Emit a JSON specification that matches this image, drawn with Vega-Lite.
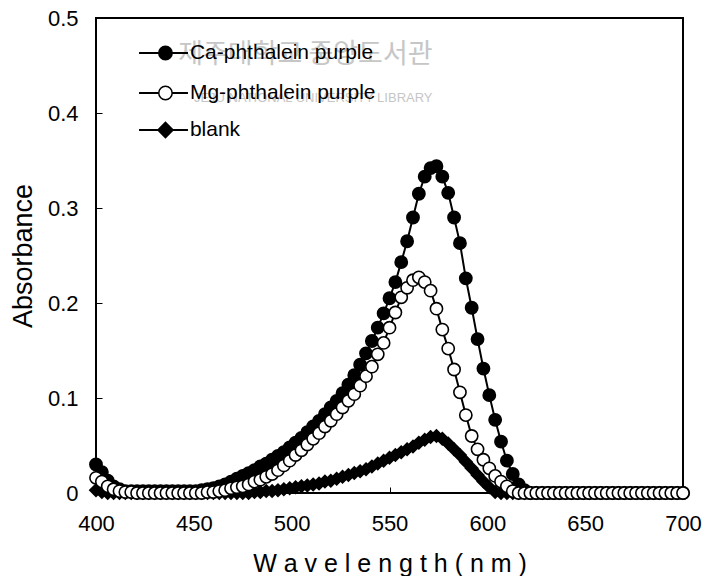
{
  "$schema": "https://vega.github.io/schema/vega-lite/v6.json",
  "width": 587,
  "height": 475,
  "autosize": {"type": "none"},
  "padding": {"left": 96, "top": 18, "right": 22, "bottom": 83},
  "background": "white",
  "config": {
    "font": "Liberation Sans",
    "view": {"stroke": "black", "strokeWidth": 2},
    "axisX": {
      "titleFont": "Liberation Sans",
      "titleFontSize": 25,
      "titleFontWeight": "normal",
      "titleColor": "black",
      "titlePadding": 17,
      "labelFont": "Liberation Sans",
      "labelFontSize": 22,
      "labelColor": "black",
      "labelPadding": 26,
      "labelFlush": false,
      "domain": false,
      "grid": false,
      "ticks": true,
      "tickSize": -6,
      "tickColor": "black",
      "tickWidth": 1
    },
    "axisY": {
      "titleFont": "Liberation Sans",
      "titleFontSize": 27,
      "titleFontWeight": "normal",
      "titleColor": "black",
      "titlePadding": 10,
      "labelFont": "Liberation Sans",
      "labelFontSize": 22,
      "labelColor": "black",
      "labelPadding": 24,
      "domain": false,
      "grid": false,
      "ticks": true,
      "tickSize": -6,
      "tickColor": "black",
      "tickWidth": 1
    }
  },
  "data": {
    "values": [
      {"wl": 400, "ca": 0.030, "mg": 0.016, "bl": 0.003},
      {"wl": 403, "ca": 0.022, "mg": 0.012, "bl": 0.001},
      {"wl": 406, "ca": 0.013, "mg": 0.007, "bl": 0},
      {"wl": 409, "ca": 0.007, "mg": 0.004, "bl": 0},
      {"wl": 412, "ca": 0.004, "mg": 0.002, "bl": 0},
      {"wl": 415, "ca": 0.002, "mg": 0.001, "bl": 0},
      {"wl": 418, "ca": 0.002, "mg": 0.001, "bl": 0},
      {"wl": 421, "ca": 0.002, "mg": 0, "bl": 0},
      {"wl": 424, "ca": 0.002, "mg": 0, "bl": 0},
      {"wl": 427, "ca": 0.002, "mg": 0, "bl": 0},
      {"wl": 430, "ca": 0.002, "mg": 0, "bl": 0},
      {"wl": 433, "ca": 0.002, "mg": 0, "bl": 0},
      {"wl": 436, "ca": 0.002, "mg": 0, "bl": 0},
      {"wl": 439, "ca": 0.002, "mg": 0, "bl": 0},
      {"wl": 442, "ca": 0.002, "mg": 0, "bl": 0},
      {"wl": 445, "ca": 0.002, "mg": 0, "bl": 0},
      {"wl": 448, "ca": 0.002, "mg": 0, "bl": 0},
      {"wl": 451, "ca": 0.002, "mg": 0, "bl": 0},
      {"wl": 454, "ca": 0.003, "mg": 0, "bl": 0},
      {"wl": 457, "ca": 0.004, "mg": 0.001, "bl": 0},
      {"wl": 460, "ca": 0.005, "mg": 0.001, "bl": 0},
      {"wl": 463, "ca": 0.007, "mg": 0.002, "bl": 0},
      {"wl": 466, "ca": 0.009, "mg": 0.003, "bl": 0},
      {"wl": 469, "ca": 0.012, "mg": 0.005, "bl": 0},
      {"wl": 472, "ca": 0.015, "mg": 0.006, "bl": 0},
      {"wl": 475, "ca": 0.018, "mg": 0.007, "bl": 0},
      {"wl": 478, "ca": 0.021, "mg": 0.009, "bl": 0},
      {"wl": 481, "ca": 0.024, "mg": 0.012, "bl": 0.001},
      {"wl": 484, "ca": 0.028, "mg": 0.014, "bl": 0.001},
      {"wl": 487, "ca": 0.031, "mg": 0.017, "bl": 0.002},
      {"wl": 490, "ca": 0.035, "mg": 0.020, "bl": 0.002},
      {"wl": 493, "ca": 0.039, "mg": 0.024, "bl": 0.003},
      {"wl": 496, "ca": 0.043, "mg": 0.029, "bl": 0.004},
      {"wl": 499, "ca": 0.048, "mg": 0.034, "bl": 0.005},
      {"wl": 502, "ca": 0.053, "mg": 0.040, "bl": 0.006},
      {"wl": 505, "ca": 0.058, "mg": 0.045, "bl": 0.007},
      {"wl": 508, "ca": 0.064, "mg": 0.051, "bl": 0.008},
      {"wl": 511, "ca": 0.070, "mg": 0.057, "bl": 0.009},
      {"wl": 514, "ca": 0.076, "mg": 0.063, "bl": 0.010},
      {"wl": 517, "ca": 0.083, "mg": 0.070, "bl": 0.012},
      {"wl": 520, "ca": 0.090, "mg": 0.076, "bl": 0.013},
      {"wl": 523, "ca": 0.097, "mg": 0.083, "bl": 0.015},
      {"wl": 526, "ca": 0.105, "mg": 0.090, "bl": 0.017},
      {"wl": 529, "ca": 0.114, "mg": 0.097, "bl": 0.019},
      {"wl": 532, "ca": 0.124, "mg": 0.104, "bl": 0.021},
      {"wl": 535, "ca": 0.135, "mg": 0.113, "bl": 0.023},
      {"wl": 538, "ca": 0.147, "mg": 0.123, "bl": 0.025},
      {"wl": 541, "ca": 0.160, "mg": 0.133, "bl": 0.028},
      {"wl": 544, "ca": 0.174, "mg": 0.146, "bl": 0.031},
      {"wl": 547, "ca": 0.189, "mg": 0.158, "bl": 0.034},
      {"wl": 550, "ca": 0.205, "mg": 0.174, "bl": 0.037},
      {"wl": 553, "ca": 0.222, "mg": 0.190, "bl": 0.040},
      {"wl": 556, "ca": 0.243, "mg": 0.206, "bl": 0.043},
      {"wl": 559, "ca": 0.265, "mg": 0.216, "bl": 0.046},
      {"wl": 562, "ca": 0.290, "mg": 0.224, "bl": 0.049},
      {"wl": 565, "ca": 0.315, "mg": 0.227, "bl": 0.053},
      {"wl": 568, "ca": 0.333, "mg": 0.222, "bl": 0.056},
      {"wl": 571, "ca": 0.342, "mg": 0.213, "bl": 0.059},
      {"wl": 574, "ca": 0.344, "mg": 0.194, "bl": 0.060},
      {"wl": 577, "ca": 0.333, "mg": 0.172, "bl": 0.057},
      {"wl": 580, "ca": 0.316, "mg": 0.152, "bl": 0.052},
      {"wl": 583, "ca": 0.290, "mg": 0.130, "bl": 0.046},
      {"wl": 586, "ca": 0.263, "mg": 0.106, "bl": 0.040},
      {"wl": 589, "ca": 0.226, "mg": 0.082, "bl": 0.033},
      {"wl": 592, "ca": 0.195, "mg": 0.060, "bl": 0.026},
      {"wl": 595, "ca": 0.162, "mg": 0.046, "bl": 0.019},
      {"wl": 598, "ca": 0.131, "mg": 0.035, "bl": 0.012},
      {"wl": 601, "ca": 0.103, "mg": 0.026, "bl": 0.006},
      {"wl": 604, "ca": 0.077, "mg": 0.018, "bl": 0.001},
      {"wl": 607, "ca": 0.054, "mg": 0.012, "bl": 0},
      {"wl": 610, "ca": 0.034, "mg": 0.007, "bl": 0},
      {"wl": 613, "ca": 0.020, "mg": 0.002, "bl": 0},
      {"wl": 616, "ca": 0.009, "mg": 0, "bl": 0},
      {"wl": 619, "ca": 0.003, "mg": 0, "bl": 0},
      {"wl": 622, "ca": 0, "mg": 0, "bl": 0},
      {"wl": 625, "ca": 0, "mg": 0, "bl": 0},
      {"wl": 628, "ca": 0, "mg": 0, "bl": 0},
      {"wl": 631, "ca": 0, "mg": 0, "bl": 0},
      {"wl": 634, "ca": 0, "mg": 0, "bl": 0},
      {"wl": 637, "ca": 0, "mg": 0, "bl": 0},
      {"wl": 640, "ca": 0, "mg": 0, "bl": 0},
      {"wl": 643, "ca": 0, "mg": 0, "bl": 0},
      {"wl": 646, "ca": 0, "mg": 0, "bl": 0},
      {"wl": 649, "ca": 0, "mg": 0, "bl": 0},
      {"wl": 652, "ca": 0, "mg": 0, "bl": 0},
      {"wl": 655, "ca": 0, "mg": 0, "bl": 0},
      {"wl": 658, "ca": 0, "mg": 0, "bl": 0},
      {"wl": 661, "ca": 0, "mg": 0, "bl": 0},
      {"wl": 664, "ca": 0, "mg": 0, "bl": 0},
      {"wl": 667, "ca": 0, "mg": 0, "bl": 0},
      {"wl": 670, "ca": 0, "mg": 0, "bl": 0},
      {"wl": 673, "ca": 0, "mg": 0, "bl": 0},
      {"wl": 676, "ca": 0, "mg": 0, "bl": 0},
      {"wl": 679, "ca": 0, "mg": 0, "bl": 0},
      {"wl": 682, "ca": 0, "mg": 0, "bl": 0},
      {"wl": 685, "ca": 0, "mg": 0, "bl": 0},
      {"wl": 688, "ca": 0, "mg": 0, "bl": 0},
      {"wl": 691, "ca": 0, "mg": 0, "bl": 0},
      {"wl": 694, "ca": 0, "mg": 0, "bl": 0},
      {"wl": 697, "ca": 0, "mg": 0, "bl": 0},
      {"wl": 700, "ca": 0, "mg": 0, "bl": 0}
    ]
  },
  "layer": [
    {
      "transform": [{"fold": ["bl", "ca", "mg"], "as": ["series", "A"]}],
      "mark": {"type": "line", "stroke": "black"},
      "encoding": {
        "x": {
          "field": "wl",
          "type": "quantitative",
          "scale": {"domain": [400, 700], "nice": false, "zero": false},
          "axis": {"title": "W a v e l e n g t h ( n m )", "values": [400, 450, 500, 550, 600, 650, 700]}
        },
        "y": {
          "field": "A",
          "type": "quantitative",
          "scale": {"domain": [0, 0.5], "nice": false},
          "axis": {
            "title": "Absorbance",
            "values": [0, 0.1, 0.2, 0.3, 0.4, 0.5],
            "labelExpr": "datum.value == 0 ? '0' : format(datum.value, '.1f')"
          }
        },
        "detail": {"field": "series", "type": "nominal"},
        "strokeWidth": {
          "field": "series",
          "type": "nominal",
          "scale": {"domain": ["ca", "mg", "bl"], "range": [2, 2, 7]},
          "legend": null
        }
      }
    },
    {
      "data": {"values": [{"t": "제주대학교 중앙도서관"}]},
      "mark": {"type": "text", "font": "Noto Sans CJK KR", "fontSize": 27, "color": "#c6c6c6", "align": "center", "baseline": "middle"},
      "encoding": {
        "x": {"datum": 507, "type": "quantitative", "axis": {"title": "W a v e l e n g t h ( n m )"}},
        "y": {"datum": 0.461, "type": "quantitative", "axis": {"title": "Absorbance"}},
        "text": {"field": "t"}
      }
    },
    {
      "data": {"values": [{"t": "JEJU NATIONAL UNIVERSITY LIBRARY"}]},
      "mark": {"type": "text", "font": "Liberation Sans", "fontSize": 13, "color": "#c6c6c6", "align": "center", "baseline": "middle"},
      "encoding": {
        "x": {"datum": 511, "type": "quantitative", "axis": {"title": "W a v e l e n g t h ( n m )"}},
        "y": {"datum": 0.416, "type": "quantitative", "axis": {"title": "Absorbance"}},
        "text": {"field": "t"}
      }
    },
    {
      "transform": [{"fold": ["bl", "ca", "mg"], "as": ["series", "A"]}],
      "mark": {"type": "point", "filled": true, "stroke": "black", "strokeWidth": 1.6, "size": 150, "opacity": 1},
      "encoding": {
        "x": {"field": "wl", "type": "quantitative", "axis": {"title": "W a v e l e n g t h ( n m )"}},
        "y": {"field": "A", "type": "quantitative", "axis": {"title": "Absorbance"}},
        "order": {"field": "series", "sort": "ascending"},
        "shape": {
          "field": "series",
          "type": "nominal",
          "scale": {"domain": ["ca", "mg", "bl"], "range": ["circle", "circle", "diamond"]},
          "legend": null
        },
        "fill": {
          "field": "series",
          "type": "nominal",
          "scale": {"domain": ["ca", "mg", "bl"], "range": ["black", "white", "black"]},
          "legend": null
        }
      }
    },
    {
      "data": {"values": [{"label": "Ca-phthalein purple"}]},
      "encoding": {"y": {"datum": 0.4632, "type": "quantitative", "axis": {"title": "Absorbance"}}},
      "layer": [
        {
          "mark": {"type": "rule", "stroke": "black", "strokeWidth": 2},
          "encoding": {"x": {"datum": 422, "type": "quantitative", "axis": {"title": "W a v e l e n g t h ( n m )"}}, "x2": {"datum": 447}}
        },
        {
          "mark": {"type": "point", "shape": "circle", "filled": true, "fill": "black", "stroke": "black", "strokeWidth": 1.5, "size": 180, "opacity": 1},
          "encoding": {"x": {"datum": 435.5, "type": "quantitative", "axis": {"title": "W a v e l e n g t h ( n m )"}}}
        },
        {
          "mark": {"type": "text", "align": "left", "baseline": "middle", "font": "Liberation Sans", "fontSize": 21, "color": "black"},
          "encoding": {"x": {"datum": 448, "type": "quantitative", "axis": {"title": "W a v e l e n g t h ( n m )"}}, "text": {"field": "label"}}
        }
      ]
    },
    {
      "data": {"values": [{"label": "Mg-phthalein purple"}]},
      "encoding": {"y": {"datum": 0.4211, "type": "quantitative", "axis": {"title": "Absorbance"}}},
      "layer": [
        {
          "mark": {"type": "rule", "stroke": "black", "strokeWidth": 2},
          "encoding": {"x": {"datum": 422, "type": "quantitative", "axis": {"title": "W a v e l e n g t h ( n m )"}}, "x2": {"datum": 447}}
        },
        {
          "mark": {"type": "point", "shape": "circle", "filled": true, "fill": "white", "stroke": "black", "strokeWidth": 1.5, "size": 180, "opacity": 1},
          "encoding": {"x": {"datum": 435.5, "type": "quantitative", "axis": {"title": "W a v e l e n g t h ( n m )"}}}
        },
        {
          "mark": {"type": "text", "align": "left", "baseline": "middle", "font": "Liberation Sans", "fontSize": 21, "color": "black"},
          "encoding": {"x": {"datum": 448, "type": "quantitative", "axis": {"title": "W a v e l e n g t h ( n m )"}}, "text": {"field": "label"}}
        }
      ]
    },
    {
      "data": {"values": [{"label": "blank"}]},
      "encoding": {"y": {"datum": 0.3821, "type": "quantitative", "axis": {"title": "Absorbance"}}},
      "layer": [
        {
          "mark": {"type": "rule", "stroke": "black", "strokeWidth": 2},
          "encoding": {"x": {"datum": 422, "type": "quantitative", "axis": {"title": "W a v e l e n g t h ( n m )"}}, "x2": {"datum": 447}}
        },
        {
          "mark": {"type": "point", "shape": "diamond", "filled": true, "fill": "black", "stroke": "black", "strokeWidth": 1.5, "size": 230, "opacity": 1},
          "encoding": {"x": {"datum": 435.5, "type": "quantitative", "axis": {"title": "W a v e l e n g t h ( n m )"}}}
        },
        {
          "mark": {"type": "text", "align": "left", "baseline": "middle", "font": "Liberation Sans", "fontSize": 21, "color": "black"},
          "encoding": {"x": {"datum": 448, "type": "quantitative", "axis": {"title": "W a v e l e n g t h ( n m )"}}, "text": {"field": "label"}}
        }
      ]
    }
  ]
}
